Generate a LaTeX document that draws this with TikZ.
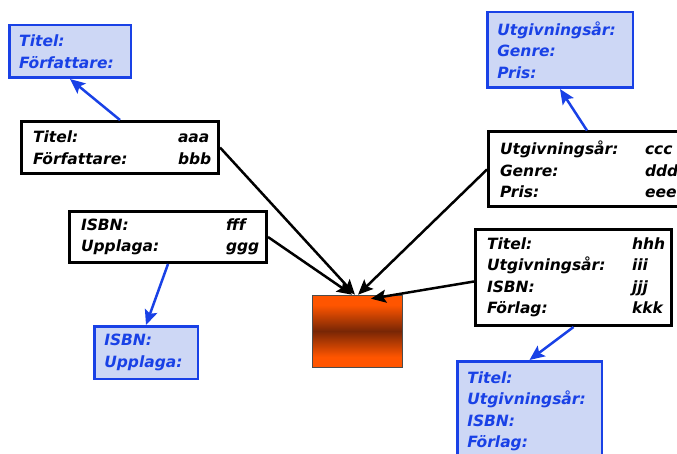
\documentclass[tikz,border=0pt]{standalone}
\usepackage{fontspec}
\setmainfont{DejaVu Sans}
\usetikzlibrary{calc, arrows.meta, positioning}
\definecolor{fieldblue}{RGB}{25,65,230}
\definecolor{fieldfill}{RGB}{205,215,245}
\definecolor{coreorange}{RGB}{255,85,0}
\definecolor{corebrown}{RGB}{120,38,5}
\pgfdeclareverticalshading{storeshade}{100bp}{color(0bp)=(coreorange); color(32bp)=(coreorange); color(50bp)=(corebrown); color(68bp)=(coreorange); color(100bp)=(coreorange)}
\newcommand{\RecFont}{\fontsize{15.5}{21.5}\selectfont\bfseries\itshape}
\newcommand{\fld}[1]{\makebox[145pt][l]{#1}}

\begin{document}
\begin{tikzpicture}[
	x=1pt, y=-1pt,
	record/.style={
		draw=black,
		line width=3pt,
		fill=white,
		inner xsep=11.5pt,
		inner ysep=0pt,
		align=left,
		font=\RecFont
	},
	form/.style={
		draw=fieldblue,
		line width=2.5pt,
		fill=fieldfill,
		text=fieldblue,
		inner xsep=10pt,
		inner ysep=0pt,
		align=left,
		font=\RecFont
	},
	core/.style={
		draw=black!70,
		line width=0.6pt,
		minimum width=90pt,
		minimum height=72pt,
		shading=storeshade
	},
	feed/.style={
		draw=black,
		line width=2.5pt,
		-{Stealth[length=15pt, width=13pt, inset=3pt]}
	},
	link/.style={
		draw=fieldblue,
		line width=2.5pt,
		-{Stealth[length=15pt, width=13pt, inset=3pt]}
	}
]
	\useasboundingbox (0,0) rectangle (677,454);
	\clip (0,0) rectangle (677,454);

	% filled records
	\node[record, text width=174pt, minimum height=52pt] (book) at (120,147.5)
		{\fld{Titel:}aaa\\ \fld{Författare:}bbb};
	\node[record, text width=174pt, minimum height=75pt] (issue) at (587,169.5)
		{\fld{Utgivningsår:}ccc\\ \fld{Genre:}ddd\\ \fld{Pris:}eee};
	\node[record, text width=174pt, minimum height=51pt] (isbn) at (168,237)
		{\fld{ISBN:}fff\\ \fld{Upplaga:}ggg};
	\node[record, text width=173pt, minimum height=96pt] (pub) at (573.5,277.5)
		{\fld{Titel:}hhh\\ \fld{Utgivningsår:}iii\\ \fld{ISBN:}jjj\\ \fld{Förlag:}kkk};

	% empty forms
	\node[form, text width=101.5pt, minimum height=52.5pt] (bookform) at (70,51.5)
		{Titel:\\ Författare:};
	\node[form, text width=125.5pt, minimum height=75.5pt] (issueform) at (560,50)
		{Utgivningsår:\\ Genre:\\ Pris:};
	\node[form, text width=83.5pt, minimum height=52.5pt] (isbnform) at (146,352.5)
		{ISBN:\\ Upplaga:};
	\node[form, text width=124.5pt, minimum height=100.5pt] (pubform) at (529.5,411.5)
		{Titel:\\ Utgivningsår:\\ ISBN:\\ Förlag:};

	% the store
	\node[core] (store) at (357,331) {};

	\draw[link] (book.north) -- (bookform.south);
	\draw[link] (issue.north) -- (issueform.south);
	\draw[link] (isbn.south) -- (isbnform.north);
	\draw[link] (pub.south) -- (pubform.north);

	\draw[feed] (book.east) -- ($(store.north)+(-2,0)$);
	\draw[feed] (isbn.east) -- ($(store.north)+(-5,0)$);
	\draw[feed] (issue.west) -- ($(store.north)+(1,0)$);
	\draw[feed] ($(pub.west)+(0,4)$) -- ($(store.north)+(14,4)$);
\end{tikzpicture}
\end{document}
